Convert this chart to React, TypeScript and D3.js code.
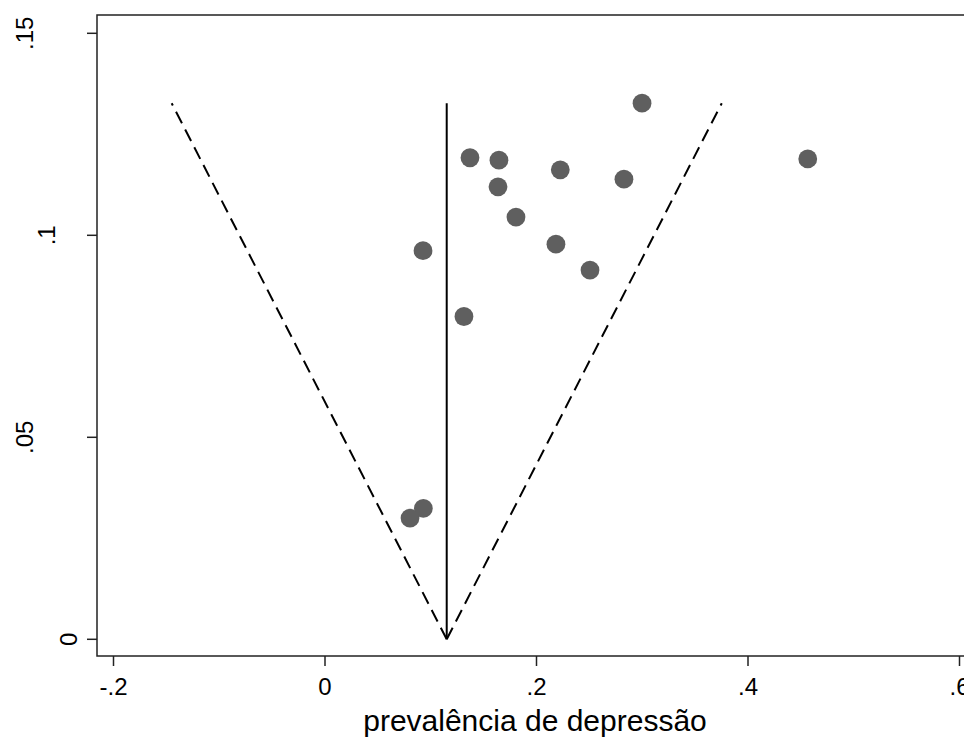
import React from "react";
import * as d3 from "d3";

// Study estimates (prevalence) and their standard errors
const estimates = [0.1371, 0.1645, 0.2225, 0.2998, 0.1636, 0.2827, 0.1806, 0.0927, 0.2184, 0.2506, 0.1314, 0.4565, 0.0930, 0.0804];
const stdErrors = [0.1192, 0.1186, 0.1162, 0.1327, 0.1120, 0.1139, 0.1045, 0.0962, 0.0978, 0.0914, 0.0799, 0.1189, 0.0324, 0.0300];

// Pooled estimate and maximum standard error used for the funnel
const pooled = [0.1151];
const seMax = [0.1327];

const xTicks = [-0.2, 0, 0.2, 0.4, 0.6];
const xTickLabels = ["-.2", "0", ".2", ".4", ".6"];
const yTicks = [0, 0.05, 0.1, 0.15];
const yTickLabels = ["0", ".05", ".1", ".15"];
const xTitle = "prevalência de depressão";

const W = 964;
const H = 742;
const FONT = "'Liberation Sans', Arial, Helvetica, sans-serif";

export default function App() {
  const x = d3.scaleLinear().domain([-0.2, 0.6]).range([113.5, 959.5]);
  const y = d3.scaleLinear().domain([0, 0.15]).range([639.3, 33.3]);

  const left = 97;
  const top = 15;
  const bottom = 656;
  const right = 1000;

  const p = pooled[0];
  const s = seMax[0];
  const z = 1.96;

  const line = d3.line<[number, number]>().x((d) => x(d[0])).y((d) => y(d[1]));

  const leftArm = line([[p, 0], [p - z * s, s]]) || "";
  const rightArm = line([[p, 0], [p + z * s, s]]) || "";
  const centre = line([[p, 0], [p, s]]) || "";

  return (
    <svg
      width={W}
      height={H}
      style={{ position: "fixed", left: 0, top: 0, background: "#fff" }}
      fontFamily={FONT}
    >
      <rect x={0} y={0} width={W} height={H} fill="#fff" />

      {/* plot frame */}
      <rect x={left} y={top} width={right - left} height={bottom - top} fill="none" stroke="#222" strokeWidth={1.5} />

      {/* pseudo confidence limits */}
      <path d={leftArm} fill="none" stroke="#000" strokeWidth={2} strokeDasharray="13 7" />
      <path d={rightArm} fill="none" stroke="#000" strokeWidth={2} strokeDasharray="13 7" />
      <path d={centre} fill="none" stroke="#000" strokeWidth={2} />

      {/* studies */}
      {estimates.map((e, i) => (
        <circle key={i} cx={x(e)} cy={y(stdErrors[i])} r={9.4} fill="#5f5f5f" />
      ))}

      {/* x axis ticks and labels */}
      {xTicks.map((t, i) => (
        <g key={"x" + i}>
          <line x1={x(t)} x2={x(t)} y1={bottom} y2={bottom + 10} stroke="#222" strokeWidth={1.5} />
          <text x={x(t)} y={695} fontSize={24} textAnchor="middle" fill="#000">
            {xTickLabels[i]}
          </text>
        </g>
      ))}
      <text x={535} y={731} fontSize={30} textAnchor="middle" fill="#000">
        {xTitle}
      </text>

      {/* y axis ticks and labels */}
      {yTicks.map((t, i) => {
        const label = yTickLabels[i];
        const bx = 99 - 22 * label.length;
        return (
          <g key={"y" + i}>
            <line x1={left - 10} x2={left} y1={y(t)} y2={y(t)} stroke="#222" strokeWidth={1.5} />
            <text
              transform={`translate(${bx},${y(t)}) rotate(-90)`}
              fontSize={24}
              textAnchor="middle"
              fill="#000"
            >
              {label}
            </text>
          </g>
        );
      })}
    </svg>
  );
}
